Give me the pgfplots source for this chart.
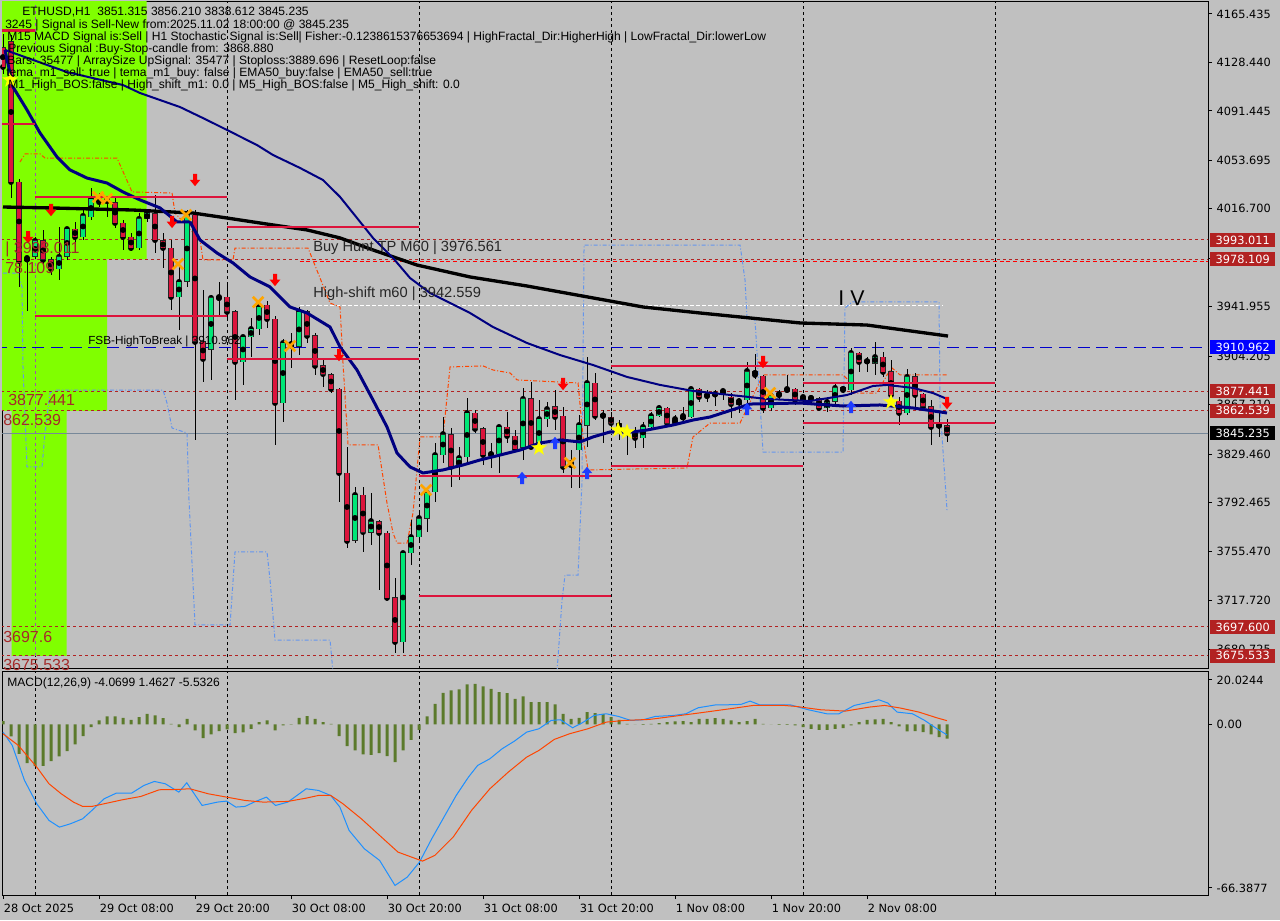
\documentclass[border=0pt]{standalone}
\usepackage{fontspec}
\setmainfont{Liberation Sans}
\newfontfamily\dejavu{DejaVu Sans}
\usepackage{pgfplots}
\usepackage{pgfplotstable}
\pgfplotsset{compat=1.18}

\definecolor{bgc}{HTML}{C0C0C0}
\definecolor{limec}{HTML}{80FF00}
\definecolor{bullc}{HTML}{00E676}
\definecolor{bearc}{HTML}{DC143C}
\definecolor{segc}{HTML}{DC143C}
\definecolor{lvlc}{HTML}{B22222}
\definecolor{lvltext}{HTML}{A52A2A}
\definecolor{navyc}{HTML}{000080}
\definecolor{chanor}{HTML}{FF4500}
\definecolor{chanbl}{HTML}{6495ED}
\definecolor{arrred}{HTML}{FF0000}
\definecolor{arrblue}{HTML}{1E3CFF}
\definecolor{xor}{HTML}{FFA500}
\definecolor{staryel}{HTML}{FFFF00}
\definecolor{histc}{HTML}{5B7A2B}
\definecolor{macdc}{HTML}{1E90FF}
\definecolor{sigc}{HTML}{FF4500}
\definecolor{curc}{HTML}{778899}
\definecolor{boxred}{HTML}{B22222}
\definecolor{sepmag}{HTML}{A050B0}

\pgfdeclareplotmark{dnarrow}{%
  \pgfpathmoveto{\pgfpoint{-1.5pt}{4.6pt}}%
  \pgfpathlineto{\pgfpoint{1.5pt}{4.6pt}}%
  \pgfpathlineto{\pgfpoint{1.5pt}{0.2pt}}%
  \pgfpathlineto{\pgfpoint{4pt}{0.2pt}}%
  \pgfpathlineto{\pgfpoint{0pt}{-4.6pt}}%
  \pgfpathlineto{\pgfpoint{-4pt}{0.2pt}}%
  \pgfpathlineto{\pgfpoint{-1.5pt}{0.2pt}}%
  \pgfpathclose\pgfusepathqfill}
\pgfdeclareplotmark{uparrow}{%
  \pgfpathmoveto{\pgfpoint{-1.5pt}{-4.6pt}}%
  \pgfpathlineto{\pgfpoint{1.5pt}{-4.6pt}}%
  \pgfpathlineto{\pgfpoint{1.5pt}{-0.2pt}}%
  \pgfpathlineto{\pgfpoint{4pt}{-0.2pt}}%
  \pgfpathlineto{\pgfpoint{0pt}{4.6pt}}%
  \pgfpathlineto{\pgfpoint{-4pt}{-0.2pt}}%
  \pgfpathlineto{\pgfpoint{-1.5pt}{-0.2pt}}%
  \pgfpathclose\pgfusepathqfill}
\pgfdeclareplotmark{ocross}{%
  \pgfsetlinewidth{2pt}%
  \pgfpathmoveto{\pgfpoint{-4pt}{-4pt}}\pgfpathlineto{\pgfpoint{4pt}{4pt}}%
  \pgfpathmoveto{\pgfpoint{-4pt}{4pt}}\pgfpathlineto{\pgfpoint{4pt}{-4pt}}%
  \pgfusepathqstroke}
\pgfdeclareplotmark{ystar}{%
  \pgfpathmoveto{\pgfpoint{0pt}{6.3pt}}%
  \pgfpathlineto{\pgfpoint{-1.48pt}{2.04pt}}%
  \pgfpathlineto{\pgfpoint{-6pt}{1.95pt}}%
  \pgfpathlineto{\pgfpoint{-2.4pt}{-0.78pt}}%
  \pgfpathlineto{\pgfpoint{-3.7pt}{-5.1pt}}%
  \pgfpathlineto{\pgfpoint{0pt}{-2.52pt}}%
  \pgfpathlineto{\pgfpoint{3.7pt}{-5.1pt}}%
  \pgfpathlineto{\pgfpoint{2.4pt}{-0.78pt}}%
  \pgfpathlineto{\pgfpoint{6pt}{1.95pt}}%
  \pgfpathlineto{\pgfpoint{1.48pt}{2.04pt}}%
  \pgfpathclose\pgfusepathqfill}

\pgfplotstableread{
h o hi lo c
0 4140.0 4150.0 4120.0 4125.0
1 4144.1 4149.4 4025.0 4037.2
2 4037.2 4039.5 3957.1 3976.9
3 3976.9 3980.0 3938.7 3979.2
4 3980.0 3995.2 3978.4 3992.2
5 3992.2 4000.6 3974.6 3977.7
6 3977.7 3980.0 3966.2 3970.8
7 3970.8 4002.9 3962.4 3980.0
8 3980.0 4002.9 3977.7 4001.3
9 4001.3 4006.7 3983.0 3995.2
10 3995.2 4015.8 3992.9 4011.3
11 4010.5 4032.6 4008.2 4024.2
12 4024.2 4028.8 4018.1 4021.9
13 4021.9 4026.5 4010.5 4023.5
14 4021.9 4025.0 4002.1 4005.9
15 4005.9 4008.2 3985.3 3995.2
16 3995.2 3998.3 3984.5 3986.8
17 3986.8 4013.5 3985.3 4009.0
18 4009.0 4015.8 4006.7 4013.5
19 4013.5 4027.3 3983.0 3992.9
20 3992.2 3998.3 3971.6 3986.8
21 3986.8 3992.9 3939.5 3949.4
22 3949.4 3972.3 3924.2 3960.9
23 3960.9 4015.8 3957.1 4012.0
24 4012.0 4015.8 3840.3 3915.1
25 3915.1 3954.8 3884.5 3902.1
26 3909.0 3951.0 3886.1 3948.7
27 3947.9 3960.9 3934.2 3949.4
28 3949.4 3958.6 3933.4 3938.0
29 3938.0 3939.5 3870.8 3899.8
30 3899.8 3920.4 3882.3 3918.9
31 3918.9 3933.4 3903.6 3925.0
32 3925.0 3947.1 3920.4 3941.8
33 3943.3 3946.4 3925.8 3932.6
34 3932.6 3935.0 3836.5 3868.5
35 3868.5 3917.0 3854.0 3914.3
36 3911.3 3921.9 3895.2 3913.5
37 3911.3 3941.8 3905.1 3938.0
38 3938.0 3939.5 3914.3 3919.7
39 3919.7 3921.9 3889.9 3896.8
40 3896.8 3901.3 3880.7 3890.6
41 3890.6 3891.4 3876.1 3879.2
42 3879.2 3880.0 3792.9 3815.1
43 3815.1 3834.9 3757.8 3763.2
44 3763.2 3804.4 3761.6 3798.3
45 3798.3 3804.4 3754.8 3770.0
46 3770.0 3799.8 3760.1 3778.4
47 3778.4 3779.2 3725.8 3769.3
48 3769.3 3770.8 3718.9 3719.7
49 3719.7 3734.9 3677.7 3686.1
50 3686.1 3755.5 3677.7 3754.0
51 3754.0 3779.2 3744.9 3766.2
52 3766.2 3784.6 3762.4 3780.7
53 3780.7 3804.4 3770.0 3799.8
54 3800.6 3838.0 3792.9 3828.8
55 3828.8 3857.8 3822.7 3844.8
56 3844.8 3849.4 3804.4 3819.7
57 3819.7 3834.9 3809.7 3826.5
58 3827.3 3872.3 3823.5 3860.9
59 3860.9 3863.2 3845.6 3848.7
60 3848.7 3850.2 3821.2 3828.8
61 3828.8 3838.0 3818.9 3829.6
62 3829.6 3851.7 3815.1 3850.2
63 3850.2 3861.6 3838.0 3843.3
64 3843.3 3847.9 3832.6 3833.4
65 3834.2 3880.0 3825.0 3871.6
66 3871.6 3884.5 3834.2 3834.9
67 3834.9 3870.8 3832.6 3856.3
68 3856.3 3869.3 3850.2 3863.9
69 3865.5 3878.4 3847.9 3857.8
70 3858.6 3865.5 3815.1 3819.7
71 3819.7 3832.6 3803.6 3822.7
72 3832.6 3859.4 3803.6 3851.7
73 3851.0 3903.6 3834.9 3883.8
74 3883.8 3891.4 3855.5 3858.6
75 3859.4 3863.2 3838.0 3858.6
76 3857.8 3861.6 3847.9 3853.2
77 3853.2 3855.5 3840.3 3849.4
78 3845.6 3847.9 3828.8 3846.4
79 3846.4 3850.2 3834.2 3841.8
80 3841.8 3854.0 3834.2 3850.2
81 3850.2 3861.6 3847.9 3858.6
82 3858.6 3867.0 3857.8 3864.7
83 3864.7 3865.5 3851.7 3853.2
84 3853.2 3859.4 3851.7 3856.3
85 3856.3 3865.5 3854.0 3858.6
86 3857.8 3880.0 3857.1 3879.2
87 3879.2 3880.0 3869.3 3873.1
88 3873.1 3878.4 3869.3 3874.6
89 3874.6 3878.4 3866.2 3875.4
90 3876.1 3878.4 3870.8 3877.7
91 3873.1 3876.1 3857.1 3867.7
92 3867.7 3872.3 3860.9 3870.0
93 3870.8 3899.8 3868.5 3892.9
94 3892.9 3905.9 3886.8 3889.9
95 3889.1 3889.9 3860.9 3864.7
96 3864.7 3878.4 3862.4 3873.9
97 3873.9 3878.4 3871.6 3875.4
98 3877.7 3889.9 3876.1 3879.2
99 3879.2 3880.0 3867.0 3870.8
100 3870.8 3874.6 3867.7 3873.1
101 3873.1 3873.9 3867.0 3871.6
102 3871.6 3873.1 3863.2 3864.7
103 3864.7 3872.3 3861.6 3869.3
104 3869.3 3884.5 3867.0 3880.0
105 3880.0 3880.7 3876.1 3878.4
106 3878.4 3910.5 3874.6 3906.7
107 3906.7 3907.4 3892.2 3899.8
108 3900.6 3903.6 3892.2 3900.2
109 3899.0 3915.1 3889.9 3903.6
110 3903.6 3907.4 3888.4 3892.2
111 3892.9 3901.3 3865.5 3874.6
112 3870.0 3873.1 3851.7 3860.9
113 3860.9 3894.5 3859.4 3888.4
114 3888.4 3891.4 3865.5 3874.6
115 3875.4 3876.1 3863.2 3865.5
116 3865.5 3870.8 3836.5 3850.2
117 3851.0 3861.6 3842.6 3851.3
118 3851.315 3856.210 3838.612 3845.235
}\candles

\pgfplotstableread{
h p
0.25 4138.0
1.25 4109.7
3.0 4092.2
4.63 4074.6
6.75 4056.3
8.38 4046.4
10.5 4040.2
13.0 4036.4
15.0 4029.6
17.13 4023.5
19.63 4017.4
21.75 4006.7
23.38 4006.7
24.63 3992.9
26.75 3983.0
28.75 3975.4
30.88 3964.7
33.38 3957.1
35.88 3941.8
38.0 3937.2
40.88 3926.5
42.13 3911.3
44.25 3893.7
46.25 3870.8
48.0 3850.2
49.25 3830.3
50.88 3819.7
52.5 3815.1
55.0 3817.4
57.5 3821.2
59.63 3825.0
62.13 3828.8
64.63 3832.6
67.13 3838.0
69.63 3840.3
72.13 3838.8
73.75 3842.6
75.88 3846.4
78.75 3846.4
80.5 3847.9
83.75 3851.7
86.25 3855.5
88.38 3857.8
93.38 3867.7
99.63 3868.5
105.0 3866.2
109.63 3867.0
113.75 3864.7
118.0 3860.9
}\emafast

\pgfplotstableread{
h p
0.25 4138.0
8.0 4121.1
15.0 4111.2
17.13 4105.1
22.13 4094.4
25.5 4084.5
28.75 4074.6
31.75 4065.4
33.75 4057.8
37.13 4047.9
40.0 4038.7
42.13 4025.8
44.25 4009.7
46.25 3994.5
48.75 3979.2
50.88 3963.9
53.38 3952.5
58.38 3937.2
61.25 3926.5
65.5 3914.3
69.63 3905.1
73.75 3897.5
78.0 3888.4
82.13 3882.3
86.25 3877.7
95.5 3871.6
100.88 3870.0
105.5 3874.6
108.75 3881.5
110.5 3882.3
113.75 3880.0
116.25 3876.1
118.0 3871.6
}\emaslow

\pgfplotstableread{
h p
0 4018.1
5.88 4017.4
16.25 4015.8
23.75 4013.5
28.0 4009.7
33.75 4004.4
38.0 4000.6
42.13 3994.5
46.25 3985.3
51.75 3973.8
58.38 3964.7
65.5 3957.8
73.75 3948.7
80.0 3941.8
87.13 3937.2
99.63 3929.6
108.0 3928.0
118.13 3919.6
}\malong

\pgfplotstableread{
h p
2.13 4052.5
2.75 4058.6
4.63 4058.6
5.25 4055.5
14.25 4055.5
16.13 4029.6
21.13 4028.8
21.5 4013.5
24.63 3992.9
25.0 3977.7
28.75 3977.7
29.0 3986.8
38.13 3986.8
40.88 3944.8
42.13 3941.8
42.5 3899.0
43.13 3836.5
46.88 3836.5
48.0 3792.2
48.75 3769.3
49.25 3761.6
50.5 3761.6
51.25 3784.6
52.13 3842.6
55.0 3842.6
55.88 3896.0
60.0 3896.8
61.25 3893.7
63.38 3891.4
64.25 3886.1
71.88 3883.8
72.5 3842.6
73.13 3817.4
85.5 3818.9
86.25 3842.6
88.38 3853.2
92.13 3853.2
95.0 3889.9
105.0 3889.9
105.63 3886.1
106.25 3876.1
109.25 3876.1
110.5 3889.9
111.13 3895.2
112.13 3889.9
118.0 3889.9
}\chanup

\pgfplotstableread{
h p
0 3967.7
1.88 3967.7
2.38 3957.1
2.5 3896.0
3.0 3819.7
4.88 3819.7
5.25 3845.6
5.88 3876.1
6.5 3878.4
20.0 3878.4
20.5 3868.5
21.13 3849.4
23.0 3845.6
23.25 3794.5
24.0 3699.1
28.38 3699.1
29.0 3754.8
33.0 3754.8
33.38 3733.4
34.0 3687.5
40.88 3687.5
41.25 3663.2
}\chanlowa

\pgfplotstableread{
h p
69.25 3663.2
69.88 3718.1
70.25 3737.2
71.88 3737.2
72.38 3809.7
72.63 3989.1
92.13 3989.1
92.75 3962.4
93.0 3933.4
94.0 3931.9
95.0 3831.1
105.0 3831.1
105.25 3941.0
106.13 3945.6
117.0 3945.6
117.13 3865.5
118.0 3786.8
}\chanlowb

\pgfplotstableread{
h v
0 1.30
1 -4.67
2 -11.42
3 -15.05
4 -16.22
5 -16.09
6 -14.27
7 -12.46
8 -10.38
9 -7.79
10 -4.54
11 -1.04
12 1.56
13 3.11
14 3.11
15 2.60
16 1.82
17 2.85
18 4.15
19 3.50
20 2.47
21 0.26
22 -1.04
23 2.21
24 -2.34
25 -5.32
26 -3.89
27 -2.60
28 -1.95
29 -3.37
30 -3.11
31 -1.69
32 0.91
33 1.56
34 -2.34
35 -0.39
36 0.10
37 2.60
38 3.24
39 2.21
40 0.91
41 0.26
42 -4.54
43 -8.43
44 -10.12
45 -11.68
46 -11.81
47 -11.16
48 -12.33
49 -14.66
50 -10.12
51 -5.97
52 -2.08
53 3.11
54 8.04
55 12.33
56 13.23
57 13.62
58 15.57
59 15.83
60 14.79
61 13.88
62 12.59
63 12.20
64 9.99
65 10.90
66 8.69
67 8.69
68 8.69
69 7.79
70 4.15
71 2.21
72 2.60
73 4.80
74 4.41
75 4.15
76 2.85
77 1.82
78 0.26
79 0.05
80 -0.13
81 0.26
82 0.52
83 0.91
84 1.17
85 1.30
86 0.91
87 2.21
88 2.21
89 2.47
90 2.21
91 1.56
92 0.91
93 1.30
94 2.21
95 0.26
96 0.05
97 -0.13
98 -0.13
99 -0.39
100 -1.04
101 -1.69
102 -2.08
103 -2.08
104 -1.69
105 -1.43
106 -0.39
107 0.91
108 1.82
109 1.95
110 2.21
111 0.91
112 -0.78
113 -2.72
114 -2.60
115 -2.98
116 -3.89
117 -4.93
118 -5.5326
}\hist

\pgfplotstableread{
h v
0 -2.98
1.16 -8.17
2.69 -21.80
4.22 -30.88
5.75 -37.37
7.05 -39.97
8.43 -38.67
9.96 -36.72
11.11 -33.48
12.64 -28.93
14.17 -26.73
16.08 -26.73
17.61 -23.75
18.92 -22.19
20.29 -23.10
21.98 -26.34
22.97 -22.71
24.89 -31.53
26.80 -30.23
27.95 -29.84
29.10 -32.17
30.24 -31.92
31.39 -30.23
32.92 -28.29
34.07 -31.53
35.60 -30.23
37.90 -25.04
39.43 -25.69
40.96 -27.64
42.11 -32.18
43.26 -41.26
45.17 -48.40
47.08 -52.94
49.00 -62.67
50.53 -59.43
52.06 -53.59
53.59 -44.50
55.12 -36.07
56.65 -27.64
58.18 -20.50
59.33 -15.96
60.86 -13.36
62.39 -9.47
63.93 -6.49
65.46 -2.98
66.99 -1.69
68.52 1.56
69.67 1.82
71.20 -1.30
72.34 0.52
73.88 3.50
75.41 4.15
76.94 3.11
78.47 1.56
80.00 1.82
81.53 3.11
83.83 3.50
85.36 4.15
86.89 6.49
89.18 7.66
90.71 7.66
92.24 7.79
93.39 9.08
94.54 7.66
98.37 7.66
100.67 5.71
102.96 4.15
104.49 4.15
106.41 7.40
108.32 8.69
109.47 9.60
110.62 8.30
111.76 4.80
113.68 4.15
115.21 1.56
116.74 -1.69
118 -4.0699
}\macd

\pgfplotstableread{
h v
0 -3.63
1.92 -8.17
4.22 -16.61
5.75 -23.10
7.28 -26.99
8.81 -30.23
9.96 -31.92
11.11 -31.92
12.64 -30.88
14.94 -29.32
17.23 -28.03
19.53 -25.43
21.83 -25.30
23.36 -25.04
25.65 -26.99
27.95 -28.29
30.24 -29.58
32.54 -30.23
35.60 -29.97
37.90 -28.68
39.43 -27.64
40.96 -27.64
42.49 -30.88
44.79 -36.72
47.08 -43.21
49.38 -49.70
52.44 -53.20
53.97 -50.99
56.27 -43.86
58.56 -33.48
60.86 -25.04
63.16 -18.55
65.46 -12.72
66.99 -10.12
68.90 -5.84
70.82 -3.63
73.11 -1.69
75.41 0.91
77.71 1.56
80.77 1.95
83.07 2.85
86.89 4.41
89.95 5.71
91.48 6.36
93.78 7.40
97.61 7.40
99.14 7.01
102.2 5.71
105.3 5.19
108.3 6.75
110.2 7.40
112.2 6.36
114.5 4.80
116.7 2.60
118 1.4627
}\signal

\tikzset{
  sep/.style={black, line width=0.75pt, dash pattern=on 2.25pt off 2.25pt},
  lvl/.style={lvlc, line width=0.75pt, dash pattern=on 2.25pt off 2.25pt},
  seg/.style={segc, line width=1.8pt},
  pbox/.style={anchor=west, inner sep=0pt, minimum width=48.75pt, minimum height=10.5pt,
    xshift=1.5pt, font=\dejavu\fontsize{8.5}{10}\selectfont, text=white},
  lvllab/.style={anchor=west, inner sep=0pt, text=lvltext, font=\fontsize{12}{14}\selectfont},
  toptxt/.style={anchor=west, inner sep=0pt, font=\fontsize{9.05}{11}\selectfont, text=black},
}
\pgfplotsset{
  wick/.style={only marks, mark=none, forget plot,
    error bars/.cd, y dir=both, y explicit, error mark=none,
    error bar style={draw=black, line width=0.75pt}},
  bodyout/.style={only marks, mark=none, forget plot, unbounded coords=discard,
    error bars/.cd, y dir=both, y explicit, error mark=none,
    error bar style={draw=black!85, line width=4.6pt}},
  bodyin/.style={only marks, mark=none, forget plot, unbounded coords=discard,
    error bars/.cd, y dir=both, y explicit, error mark=none,
    error bar style={draw=#1, line width=3.2pt}},
}

\begin{document}
\begin{tikzpicture}
\fill[bgc] (0,0) rectangle (960pt,690pt);

\begin{axis}[
  at={(1.5pt,188.25pt)}, anchor=south west, scale only axis,
  width=904.5pt, height=500.25pt,
  xmin=-0.125, xmax=150.625, ymin=3665.47, ymax=4174.59,
  enlargelimits=false,
  clip mode=individual,
  axis line style={black, line width=0.75pt},
  xtick=\empty,
  ytick={4165.435,4128.44,4091.445,4053.695,4016.7,3978.95,3941.955,3904.205,3867.21,3829.46,3792.465,3755.47,3717.72,3680.725},
  yticklabels={4165.435,4128.440,4091.445,4053.695,4016.700,3978.950,3941.955,3904.205,3867.210,3829.460,3792.465,3755.470,3717.720,3680.725},
  ytick pos=right, yticklabel pos=right, tick align=outside,
  major tick length=3pt, tick style={black, line width=0.75pt},
  tick label style={font=\dejavu\fontsize{8.5}{10}\selectfont, text=black},
]
% lime zones
\addplot[fill=limec, draw=none] coordinates {(-1,3978.109) (17.96,3978.109) (17.96,4200) (-1,4200) (-1,3978.109)};
\addplot[fill=limec, draw=none] coordinates {(-1,3862.539) (13.0,3862.539) (13.0,4200) (-1,4200) (-1,3862.539)};
\addplot[fill=limec, draw=none] coordinates {(1.09,3675.533) (7.96,3675.533) (7.96,3862.539) (1.09,3862.539) (1.09,3675.533)};
% day separators
\pgfplotsinvokeforeach{28,52,76,100,124}{
  \draw[sep] (axis cs:#1,3665.47) -- (axis cs:#1,4174.59);
}
\draw[sep] (axis cs:4,3665.47) -- (axis cs:4,3675.5);
\draw[sepmag, line width=0.75pt, dash pattern=on 2.25pt off 2.25pt] (axis cs:4,3675.5) -- (axis cs:4,4174.59);
% horizontal levels
\addplot[lvl] coordinates {(-1,3993.011) (152,3993.011)};
\addplot[lvl] coordinates {(-1,3978.109) (152,3978.109)};
\addplot[lvl] coordinates {(-1,3877.441) (152,3877.441)};
\addplot[lvl] coordinates {(-1,3862.539) (152,3862.539)};
\addplot[lvl] coordinates {(-1,3697.6) (152,3697.6)};
\addplot[lvl] coordinates {(-1,3675.533) (152,3675.533)};
\addplot[red, line width=0.75pt, dash pattern=on 3pt off 2pt] coordinates {(37.1,3976.561) (152,3976.561)};
\addplot[white, line width=0.75pt, dash pattern=on 3pt off 1.5pt] coordinates {(37.1,3942.559) (117.5,3942.559)};
\addplot[blue!80!black, line width=0.75pt, dash pattern=on 9pt off 5pt] coordinates {(-1,3910.962) (152,3910.962)};
\addplot[curc, line width=0.75pt] coordinates {(-1,3845.235) (152,3845.235)};
% channels
\addplot[chanbl, line width=0.75pt, dash pattern=on 3pt off 1.5pt on 0.75pt off 1.5pt] table[x=h,y=p] \chanlowa;
\addplot[chanbl, line width=0.75pt, dash pattern=on 3pt off 1.5pt on 0.75pt off 1.5pt] table[x=h,y=p] \chanlowb;
\addplot[chanor, line width=0.75pt, dash pattern=on 3pt off 1.5pt on 0.75pt off 1.5pt] table[x=h,y=p] \chanup;
% candles: wicks, then bodies (bull / bear)
\addplot[wick] table[x=h, y=c, y error plus expr={\thisrow{hi}-\thisrow{c}}, y error minus expr={\thisrow{c}-\thisrow{lo}}] \candles;
\addplot[bodyout] table[x expr={\thisrow{c}>\thisrow{o} ? \thisrow{h} : nan}, y expr={(\thisrow{o}+\thisrow{c})/2}, y error expr={abs(\thisrow{o}-\thisrow{c})/2+0.35}] \candles;
\addplot[bodyin=bullc] table[x expr={\thisrow{c}>\thisrow{o} ? \thisrow{h} : nan}, y expr={(\thisrow{o}+\thisrow{c})/2}, y error expr={max(abs(\thisrow{o}-\thisrow{c})/2-0.35,0)}] \candles;
\addplot[bodyout] table[x expr={\thisrow{c}>\thisrow{o} ? nan : \thisrow{h}}, y expr={(\thisrow{o}+\thisrow{c})/2}, y error expr={abs(\thisrow{o}-\thisrow{c})/2+0.35}] \candles;
\addplot[bodyin=bearc] table[x expr={\thisrow{c}>\thisrow{o} ? nan : \thisrow{h}}, y expr={(\thisrow{o}+\thisrow{c})/2}, y error expr={max(abs(\thisrow{o}-\thisrow{c})/2-0.35,0)}] \candles;
% moving averages
\addplot[black, line width=2.5pt, line join=round] table[x=h,y=p] \malong;
\addplot[navyc, line width=1.5pt, line join=round] table[x=h,y=p] \emaslow;
\addplot[navyc, line width=2.25pt, line join=round] table[x=h,y=p] \emafast;
% red segments
\addplot[seg] coordinates {(-1,4152.7) (4,4152.7)};
\addplot[seg] coordinates {(-1,4081.5) (4,4081.5)};
\addplot[seg] coordinates {(4,4025.7) (28,4025.7)};
\addplot[seg] coordinates {(4,3934.9) (28,3934.9)};
\addplot[seg] coordinates {(28,4002.9) (52,4002.9)};
\addplot[seg] coordinates {(28,3902.1) (52,3902.1)};
\addplot[seg] coordinates {(52,3812.8) (76,3812.8)};
\addplot[seg] coordinates {(52,3721.2) (76,3721.2)};
\addplot[seg] coordinates {(76,3896.8) (100,3896.8)};
\addplot[seg] coordinates {(76,3820.4) (100,3820.4)};
\addplot[seg] coordinates {(100,3883.8) (124,3883.8)};
\addplot[seg] coordinates {(100,3853.2) (124,3853.2)};
% signal marks
\addplot[only marks, mark=dnarrow, mark options={fill=arrred, draw=none}] coordinates {
(3.13,3995.1) (6.0,4015.8) (24.0,4038.7) (21.13,4006.7) (34.0,3962.4) (42.0,3905.1) (70.0,3883.0) (95.0,3899.8) (118.0,3868.5)};
\addplot[only marks, mark=uparrow, mark options={fill=arrblue, draw=none}] coordinates {
(64.88,3811.3) (69.0,3838.0) (73.0,3815.1) (93.0,3863.9) (106.0,3865.5)};
\addplot[only marks, mark=ocross, mark options={draw=xor}] coordinates {
(11.88,4025.7) (13.0,4024.2) (22.88,4012.0) (21.88,3974.6) (31.88,3945.5) (35.88,3912.0) (52.88,3802.1) (70.88,3822.7) (95.88,3876.1)};
\addplot[only marks, mark=ystar, mark options={fill=staryel, draw=none}] coordinates {
(0.88,4115.1) (67.0,3834.2) (76.88,3847.9) (78.0,3846.4) (111.0,3869.3)};
% texts
\node[anchor=west, inner sep=0pt, font=\fontsize{11}{13}\selectfont, text=black!85] at (axis cs:38.75,3986.8) {Buy Hunt TP M60 | 3976.561};
\node[anchor=west, inner sep=0pt, font=\fontsize{11}{13}\selectfont, text=black!85] at (axis cs:38.75,3951.7) {High-shift m60 | 3942.559};
\node[anchor=west, inner sep=0pt, font=\fontsize{8.8}{10}\selectfont, text=black] at (axis cs:10.63,3915.8) {FSB-HighToBreak | 3910.962};
\node[anchor=west, inner sep=0pt, font=\fontsize{16}{18}\selectfont, text=black] at (axis cs:104.4,3948.6) {I V};
\node[lvllab] at (axis cs:0.25,3986.1) {| 3993.011};
\node[lvllab] at (axis cs:0.25,3971.6) {78.109};
\node[lvllab] at (axis cs:0.63,3870.8) {3877.441};
\node[lvllab] at (axis cs:0.0,3855.5) {862.539};
\node[lvllab] at (axis cs:0.0,3689.9) {3697.6};
\node[lvllab] at (axis cs:0.0,3668.8) {3675.533};
% anchors for price boxes
\coordinate (bA) at (axis cs:150.625,3993.011);
\coordinate (bB) at (axis cs:150.625,3978.109);
\coordinate (bC) at (axis cs:150.625,3910.962);
\coordinate (bD) at (axis cs:150.625,3877.441);
\coordinate (bE) at (axis cs:150.625,3862.539);
\coordinate (bF) at (axis cs:150.625,3845.235);
\coordinate (bG) at (axis cs:150.625,3697.6);
\coordinate (bH) at (axis cs:150.625,3675.533);
\end{axis}

\begin{axis}[
  at={(1.5pt,18.75pt)}, anchor=south west, scale only axis,
  width=904.5pt, height=167.25pt,
  xmin=-0.125, xmax=150.625, ymin=-66.3877, ymax=20.41,
  enlargelimits=false,
  clip mode=individual,
  axis line style={black, line width=0.75pt},
  ytick={17.3,0,-63.66}, yticklabels={20.0244,0.00,-66.3877},
  ytick pos=right, yticklabel pos=right,
  xtick={0,12,24,36,48,60,72,84,96,108},
  xticklabels={28 Oct 2025,29 Oct 08:00,29 Oct 20:00,30 Oct 08:00,30 Oct 20:00,31 Oct 08:00,31 Oct 20:00,1 Nov 08:00,1 Nov 20:00,2 Nov 08:00},
  xtick pos=left, xticklabel pos=left,
  tick align=outside, major tick length=3pt, tick style={black, line width=0.75pt},
  tick label style={font=\dejavu\fontsize{8.5}{10}\selectfont, text=black},
  xticklabel style={anchor=north west, inner xsep=0.5pt},
]
\pgfplotsinvokeforeach{4,28,52,76,100,124}{
  \draw[sep] (axis cs:#1,-66.3877) -- (axis cs:#1,20.41);
}
\addplot[ybar, bar width=2.25pt, fill=histc, draw=none] table[x=h,y=v] \hist;
\addplot[macdc, line width=0.75pt] table[x=h,y=v] \macd;
\addplot[sigc, line width=0.75pt] table[x=h,y=v] \signal;
\end{axis}

% price boxes on the right scale
\node[pbox, fill=boxred] at (bA) {3993.011};
\node[pbox, fill=boxred] at (bB) {3978.109};
\node[pbox, fill=blue] at (bC) {3910.962};
\node[pbox, fill=boxred] at (bD) {3877.441};
\node[pbox, fill=boxred] at (bE) {3862.539};
\node[pbox, fill=black] at (bF) {3845.235};
\node[pbox, fill=boxred] at (bG) {3697.600};
\node[pbox, fill=boxred] at (bH) {3675.533};

% header texts (pixel frame)
\begin{scope}[shift={(0pt,690pt)}, x=0.75pt, y=-0.75pt]
\node[toptxt] at (22,12) {ETHUSD,H1\ \ 3851.315 3856.210 3838.612 3845.235};
\node[toptxt] at (5,25) {3245 | Signal is Sell-New from:2025.11.02 18:00:00 @ 3845.235};
\node[toptxt] at (7,37) {M15 MACD Signal is:Sell | H1 Stochastic Signal is:Sell| Fisher:-0.1238615376653694 | HighFractal\_Dir:HigherHigh | LowFractal\_Dir:lowerLow};
\node[toptxt] at (8,49) {Previous Signal :Buy-Stop-candle from: 3868.880};
\node[toptxt] at (7,61) {Bars: 35477 | ArraySize UpSignal: 35477 | Stoploss:3889.696 | ResetLoop:false};
\node[toptxt] at (6,73) {tema\_m1\_sell: true | tema\_m1\_buy: false | EMA50\_buy:false | EMA50\_sell:true};
\node[toptxt] at (8,85) {M1\_High\_BOS:false | High\_shift\_m1: 0.0 | M5\_High\_BOS:false | M5\_High\_shift: 0.0};
\node[toptxt] at (7,683) {MACD(12,26,9) -4.0699 1.4627 -5.5326};
\end{scope}

\pgfresetboundingbox
\path[use as bounding box] (0,0) rectangle (960pt,690pt);
\end{tikzpicture}
\end{document}
